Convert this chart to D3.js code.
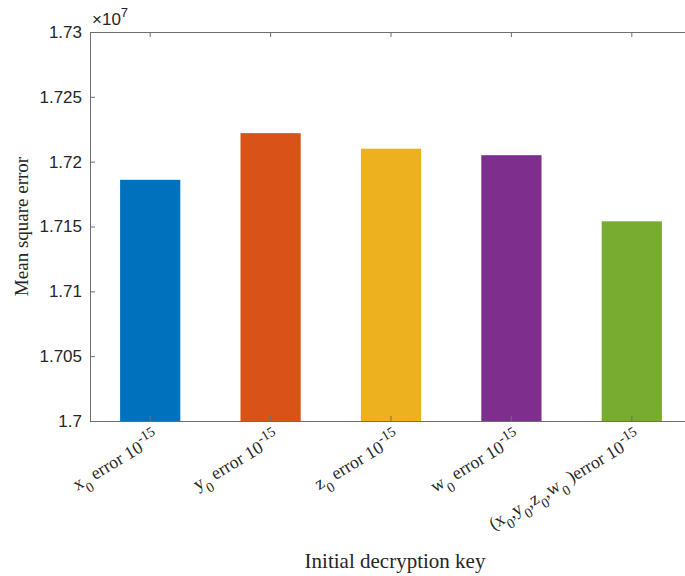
<!DOCTYPE html>
<html>
<head>
<meta charset="utf-8">
<script src="https://cdn.jsdelivr.net/npm/d3@7"></script>
<style>
  body { margin: 0; background: #fff; }
  .axis path, .axis line { stroke: #6e6e6e; }
  .axis text { font-family: "Liberation Sans", Arial, sans-serif; font-size: 17px; fill: #262626; }
</style>
</head>
<body>
<div id="chart-area"></div>
<script>
// bar categories and values in units of 1e7
const categories = ["x0", "y0", "z0", "w0", "all"]
const errorValues = [1.7186, 1.7222, 1.7210, 1.7205, 1.7154]
const barColors = ["#0072BD", "#D95319", "#EDB120", "#7E2F8E", "#77AC30"]
const yTicks = [1.7, 1.705, 1.71, 1.715, 1.72, 1.725, 1.73]

const margin = { left: 90, top: 32, right: -7, bottom: 155 }
const width = 685 - margin.left - margin.right
const height = 576 - margin.top - margin.bottom

const svg = d3.select("#chart-area").append("svg")
  .attr("width", 685)
  .attr("height", 576)

const g = svg.append("g")
  .attr("transform", `translate(${margin.left}, ${margin.top})`)

const x = d3.scaleBand()
  .domain(categories)
  .range([0, width])
  .paddingInner(0.5)
  .paddingOuter(0.25)

const y = d3.scaleLinear()
  .domain([1.7, 1.73])
  .range([height, 0])

// bars
g.selectAll("rect")
  .data(errorValues)
  .enter().append("rect")
  .attr("x", (d, i) => x(categories[i]))
  .attr("y", d => y(d))
  .attr("width", x.bandwidth())
  .attr("height", d => height - y(d))
  .attr("fill", (d, i) => barColors[i])

// axes (ticks pointing inward)
g.append("g")
  .attr("class", "axis")
  .call(d3.axisLeft(y).tickValues(yTicks).tickFormat(d3.format(".3~f"))
    .tickSizeInner(-5).tickSizeOuter(0).tickPadding(8))

g.append("g")
  .attr("class", "axis")
  .call(d3.axisTop(x).tickSizeInner(-5).tickSizeOuter(0).tickFormat(""))

g.append("g")
  .attr("class", "axis")
  .attr("transform", `translate(0, ${height})`)
  .call(d3.axisBottom(x).tickSizeInner(-5).tickSizeOuter(0).tickFormat(""))

// rotated x tick labels with sub/superscripts (0 normal, 1 sub, 2 sup)
const labelParts = {
  x0: [["x", 0], ["0", 1], ["\u00a0error 10", 0], ["-15", 2]],
  y0: [["y", 0], ["0", 1], ["\u00a0error 10", 0], ["-15", 2]],
  z0: [["z", 0], ["0", 1], ["\u00a0error 10", 0], ["-15", 2]],
  w0: [["w", 0], ["0", 1], ["\u00a0error 10", 0], ["-15", 2]],
  all: [["(x", 0], ["0", 1], [",y", 0], ["0", 1], [",z", 0], ["0", 1], [",w", 0], ["0", 1], ["\u00a0)error 10", 0], ["-15", 2]],
}

categories.forEach(c => {
  const t = g.append("text")
    .attr("transform", `translate(${x(c) + x.bandwidth() / 2 + 10}, ${height + 20}) rotate(-31)`)
    .attr("text-anchor", "end")
    .attr("dy", "0.7em")
    .attr("font-family", "Liberation Serif, Times New Roman, serif")
    .attr("font-size", "18px")
    .attr("fill", "#262626")
  labelParts[c].forEach((p, i) => {
    const prev = i > 0 ? labelParts[c][i - 1][1] : 0
    let shift = 0
    if (p[1] === 1) shift = 8
    if (p[1] === 2) shift = -8
    if (prev === 1) shift -= 8
    if (prev === 2) shift += 8
    t.append("tspan")
      .attr("dy", shift)
      .attr("font-size", p[1] === 0 ? "18px" : "14px")
      .text(p[0])
  })
})

// exponent label
const expo = g.append("text")
  .attr("x", 2)
  .attr("y", -7)
  .attr("font-family", "Liberation Sans, Arial, sans-serif")
  .attr("font-size", "17px")
  .attr("fill", "#262626")
expo.append("tspan").text("×10")
expo.append("tspan").attr("dy", -8).attr("font-size", "13px").text("7")

// axis titles
g.append("text")
  .attr("x", -(y(1.715)))
  .attr("y", -62)
  .attr("transform", "rotate(-90)")
  .attr("text-anchor", "middle")
  .attr("font-family", "Liberation Serif, Times New Roman, serif")
  .attr("font-size", "19px")
  .attr("fill", "#262626")
  .text("Mean square error")

g.append("text")
  .attr("x", 305)
  .attr("y", height + 147)
  .attr("text-anchor", "middle")
  .attr("font-family", "Liberation Serif, Times New Roman, serif")
  .attr("font-size", "21px")
  .attr("fill", "#262626")
  .text("Initial decryption key")
</script>
</body>
</html>
